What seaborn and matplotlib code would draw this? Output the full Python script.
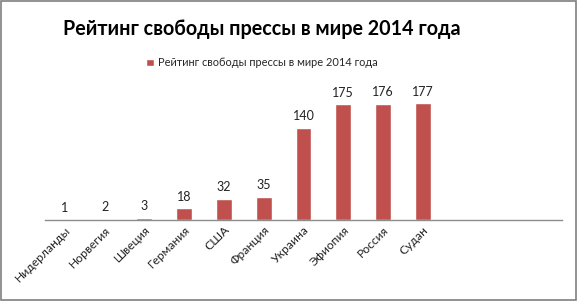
import numpy as np
import pandas as pd
import matplotlib as mpl
mpl.use('Agg')
import matplotlib.pyplot as plt
import seaborn as sns

countries = ['Нидерланды', 'Норвегия', 'Швеция', 'Германия', 'США',
             'Франция', 'Украина', 'Эфиопия', 'Россия', 'Судан']
ranks = [1, 2, 3, 18, 32, 35, 140, 175, 176, 177]
series_name = 'Рейтинг свободы прессы в мире 2014 года'
bar_color = '#C0504D'

df = pd.DataFrame({'country': countries, 'rank': ranks})

sns.set_style('white')
plt.rcParams['font.family'] = ['Lato', 'DejaVu Sans']

fig = plt.figure(figsize=(5.77, 3.01), dpi=100)
ax = fig.add_axes([0.078, 0.269, 0.896, 0.439])

sns.barplot(data=df, x='country', y='rank', color=bar_color, width=0.4,
            saturation=1, ax=ax, label=series_name)
ax.set_xlim(-0.5, 12.5)
ax.set_ylim(0, 200)

for c in ax.containers:
    ax.bar_label(c, padding=4, fontsize=9, color='#222222')

ax.set_xlabel('')
ax.set_ylabel('')
ax.set_yticks([])
for s in ['top', 'right', 'left']:
    ax.spines[s].set_visible(False)
ax.spines['bottom'].set_color('#8c8c8c')
ax.spines['bottom'].set_linewidth(1)
ax.tick_params(axis='x', length=0, pad=3, labelsize=8.7, colors='#222222')
plt.setp(ax.get_xticklabels(), rotation=45, ha='right', rotation_mode='anchor')

ax.legend(loc='center', bbox_to_anchor=(0.42, 1.19), frameon=False,
          fontsize=7.9, handlelength=0.7, handleheight=0.7, handletextpad=0.4,
          borderaxespad=0)

fig.text(0.454, 0.905, series_name, ha='center', va='center',
         fontsize=14.2, fontweight='bold', color='black')

fig.patches.append(mpl.patches.Rectangle((0.001, 0.002), 0.997, 0.995,
                                         transform=fig.transFigure, fill=False,
                                         edgecolor='#7f7f7f', linewidth=1.2))

fig.savefig('out.png', dpi=100)
